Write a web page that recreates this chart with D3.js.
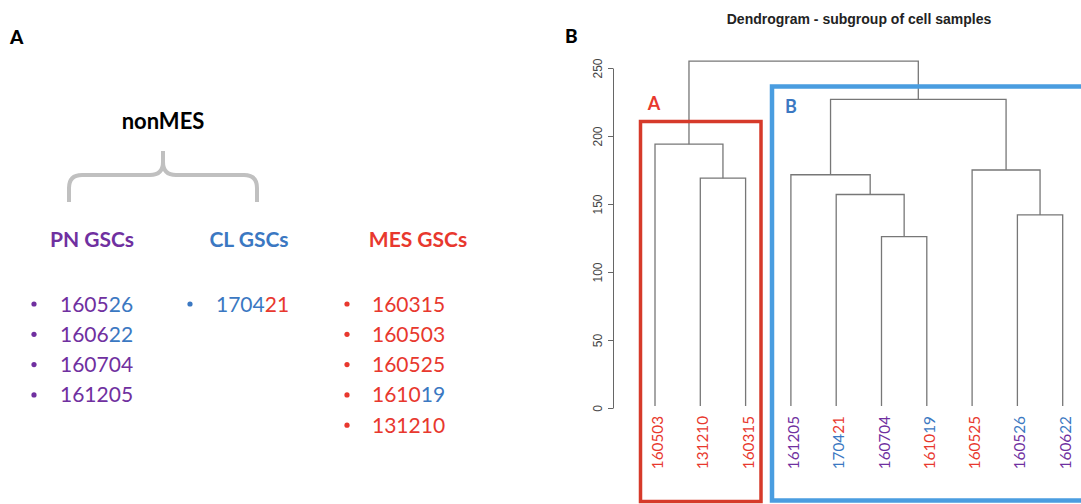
<!DOCTYPE html>
<html>
<head>
<meta charset="utf-8">
<script src="https://cdn.jsdelivr.net/npm/d3@7"></script>
<style>
  body { margin: 0; background: #fff; }
  svg { display: block; }
</style>
</head>
<body>
<svg id="chart" width="1081" height="504"></svg>
<script>
// groups of cell samples (panel A)
const pnSamples = ['160526', '160622', '160704', '161205'];
const clSamples = ['170421'];
const mesSamples = ['160315', '160503', '160525', '161019', '131210'];
// last two digits shown in a second subtype colour
const tailGroup = { '170421': 'MES', '161019': 'CL', '160526': 'CL', '160622': 'CL' };

// dendrogram (panel B)
const leafOrder = ['160503', '131210', '160315', '161205', '170421', '160704', '161019', '160525', '160526', '160622'];
// merges like hclust: negative = leaf (1-based), positive = earlier merge
const mergeLeft  = [-6, -9, -2, -5, -4, -8, -1, 5, 7];
const mergeRight = [-7, -10, -3, 1, 4, 2, 3, 6, 8];
const mergeHeight = [126, 142, 169, 157, 171.5, 175, 194, 227, 255];
const yTicks = [0, 50, 100, 150, 200, 250];

const colors = { PN: '#7030a0', CL: '#3b78c2', MES: '#e8382e' };
const groupOf = {};
pnSamples.forEach(s => groupOf[s] = 'PN');
clSamples.forEach(s => groupOf[s] = 'CL');
mesSamples.forEach(s => groupOf[s] = 'MES');

const svg = d3.select('#chart');
const calibri = 'Lato, "Open Sans", sans-serif';

function colouredLabel(sel, name) {
	let tail = tailGroup[name];
	if (tail) {
		sel.append('tspan').attr('fill', colors[groupOf[name]]).text(name.slice(0, 4));
		sel.append('tspan').attr('fill', colors[tail]).text(name.slice(4));
	} else {
		sel.append('tspan').attr('fill', colors[groupOf[name]]).text(name);
	}
}

// ---------- panel A ----------
svg.append('text')
	.attr('x', 10).attr('y', 44)
	.attr('font-family', calibri).attr('font-weight', 900).attr('font-size', 19)
	.text('A');

svg.append('text')
	.attr('x', 163).attr('y', 129)
	.attr('text-anchor', 'middle')
	.attr('font-family', calibri).attr('font-weight', 'bold').attr('font-size', 22)
	.text('nonMES');

svg.append('path')
	.attr('d', 'M69,202 L69,188 Q69,175 82,175 L150,175 Q163,175 163,162 L163,151 M163,162 Q163,175 176,175 L244,175 Q257,175 257,188 L257,202')
	.attr('fill', 'none')
	.attr('stroke', '#c0c0c0')
	.attr('stroke-width', 4);

let columns = [
	{ title: 'PN GSCs', group: 'PN', list: pnSamples, tx: 92, bx: 34, nx: 60 },
	{ title: 'CL GSCs', group: 'CL', list: clSamples, tx: 249, bx: 190, nx: 216 },
	{ title: 'MES GSCs', group: 'MES', list: mesSamples, tx: 418, bx: 347, nx: 372 }
];

let rowY = d3.scaleLinear().domain([0, 1]).range([304, 334.3]);

columns.map(function(col) {
	svg.append('text')
		.attr('x', col.tx).attr('y', 247)
		.attr('text-anchor', 'middle')
		.attr('font-family', calibri).attr('font-weight', 'bold').attr('font-size', 21)
		.attr('fill', colors[col.group])
		.text(col.title);

	col.list.map(function(name, i) {
		svg.append('circle')
			.attr('cx', col.bx).attr('cy', rowY(i))
			.attr('r', 2.6)
			.attr('fill', colors[col.group]);
		let t = svg.append('text')
			.attr('x', col.nx).attr('y', rowY(i) + 7.5)
			.attr('font-family', calibri).attr('font-size', 21);
		colouredLabel(t, name);
	});
});

// ---------- panel B ----------
svg.append('text')
	.attr('x', 565).attr('y', 43)
	.attr('font-family', calibri).attr('font-weight', 900).attr('font-size', 19)
	.text('B');

svg.append('text')
	.attr('x', 859).attr('y', 24)
	.attr('text-anchor', 'middle')
	.attr('font-family', '"Liberation Sans", Arial, sans-serif').attr('font-weight', 'bold').attr('font-size', 14)
	.attr('fill', '#222')
	.text('Dendrogram - subgroup of cell samples');

let x = d3.scalePoint().domain(leafOrder).range([655, 1062.7]);
let y = d3.scaleLinear().domain([0, 250]).range([408, 68]);

let yAxis = d3.axisLeft(y).tickValues(yTicks).tickSize(5).tickSizeOuter(0);
let ax = svg.append('g')
	.attr('transform', 'translate(613,0)')
	.call(yAxis);
ax.select('.domain').attr('stroke', '#666');
ax.selectAll('.tick line').attr('stroke', '#666');
ax.selectAll('.tick text')
	.attr('font-family', '"Liberation Sans", Arial, sans-serif')
	.attr('font-size', 12)
	.attr('fill', '#444')
	.attr('text-anchor', 'middle')
	.attr('x', null).attr('dy', null)
	.attr('transform', 'translate(-14,0) rotate(-90)')
	.attr('dominant-baseline', 'middle');

// node positions
const leafHeight = 1.5;
let nodes = [];
function nodePos(id) {
	if (id < 0) {
		return { x: x(leafOrder[-id - 1]), h: leafHeight };
	}
	return nodes[id - 1];
}
mergeHeight.map(function(h, i) {
	let a = nodePos(mergeLeft[i]);
	let b = nodePos(mergeRight[i]);
	nodes.push({ x: (a.x + b.x) / 2, h: h, a: a, b: b });
});

let link = svg.append('g')
	.attr('fill', 'none')
	.attr('stroke', '#777')
	.attr('stroke-width', 1.3);

link.selectAll('path')
	.data(nodes)
	.enter()
	.append('path')
	.attr('d', d => `M${d.a.x},${y(d.a.h)} V${y(d.h)} H${d.b.x} V${y(d.b.h)}`);

// leaf labels
leafOrder.map(function(name) {
	let t = svg.append('text')
		.attr('transform', `translate(${x(name) + 8},416) rotate(-90)`)
		.attr('text-anchor', 'end')
		.attr('font-family', calibri)
		.attr('font-size', 15.3);
	colouredLabel(t, name);
});

// highlight boxes
svg.append('rect')
	.attr('x', 640.5).attr('y', 121.5)
	.attr('width', 120.5).attr('height', 380)
	.attr('fill', 'none')
	.attr('stroke', '#d63a2a')
	.attr('stroke-width', 3.5);
svg.append('text')
	.attr('x', 654).attr('y', 110)
	.attr('text-anchor', 'middle')
	.attr('font-family', calibri).attr('font-weight', 'bold').attr('font-size', 18)
	.attr('fill', '#e8382e')
	.text('A');

svg.append('rect')
	.attr('x', 772).attr('y', 86.5)
	.attr('width', 330).attr('height', 414)
	.attr('fill', 'none')
	.attr('stroke', '#4a9de0')
	.attr('stroke-width', 4.5);
svg.append('text')
	.attr('x', 791).attr('y', 113)
	.attr('text-anchor', 'middle')
	.attr('font-family', calibri).attr('font-weight', 'bold').attr('font-size', 18)
	.attr('fill', '#3b78c2')
	.text('B');
</script>
</body>
</html>
